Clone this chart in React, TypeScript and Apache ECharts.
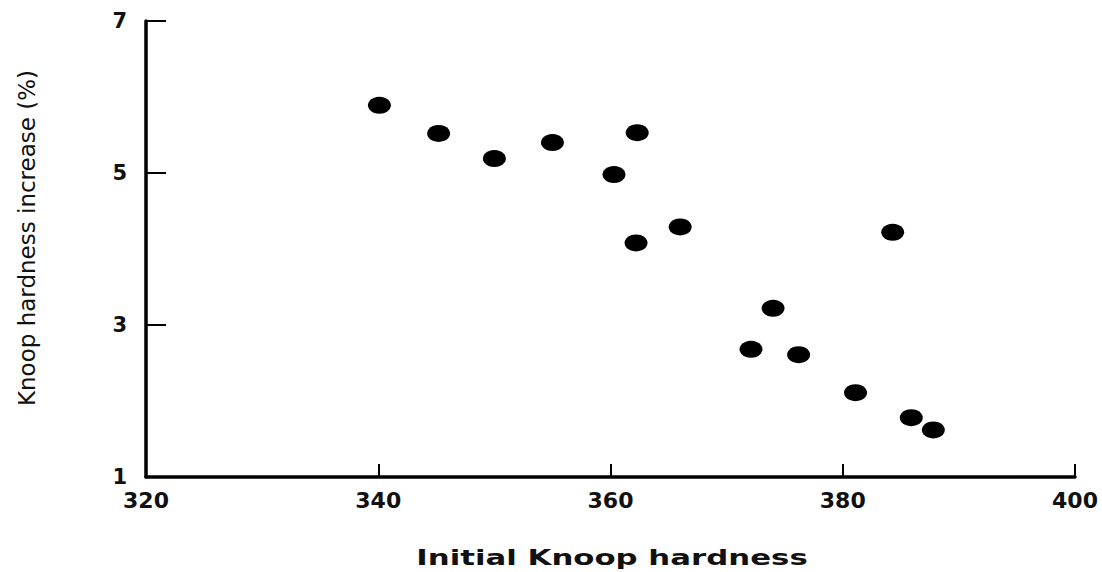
import React, { useEffect, useRef } from "react";
import * as echarts from "echarts";

const initialHardness = [340.1, 345.2, 350.0, 355.0, 362.3, 360.3, 362.2, 366.0, 384.3, 374.0, 372.1, 376.2, 381.1, 385.9, 387.8];
const hardnessIncrease = [5.89, 5.52, 5.19, 5.4, 5.53, 4.98, 4.08, 4.29, 4.22, 3.22, 2.68, 2.61, 2.11, 1.78, 1.62];
const xTitle = "Initial Knoop hardness";
const yTitle = "Knoop hardness increase (%)";

export default function App() {
  const ref = useRef<HTMLDivElement>(null);
  useEffect(() => {
    if (!ref.current) return;
    const chart = echarts.init(ref.current, null, { renderer: "svg" });
    const points = initialHardness.map((x, i) => [x, hardnessIncrease[i]]);
    chart.setOption({
      animation: false,
      backgroundColor: "#ffffff",
      grid: { left: 146, right: 27, top: 21, bottom: 95, containLabel: false },
      xAxis: {
        type: "value",
        min: 320,
        max: 400,
        interval: 20,
        splitLine: { show: false },
        axisLine: { show: true, onZero: false, lineStyle: { color: "#000", width: 3.5 } },
        axisTick: { show: true, inside: true, length: 13, lineStyle: { color: "#000", width: 2 } },
        axisLabel: {
          margin: 12,
          color: "#111",
          fontFamily: "DejaVu Sans",
          fontWeight: "bold",
          fontSize: 22,
        },
      },
      yAxis: {
        type: "value",
        min: 1,
        max: 7,
        interval: 2,
        splitLine: { show: false },
        axisLine: { show: true, onZero: false, lineStyle: { color: "#000", width: 3.5 } },
        axisTick: { show: true, inside: true, length: 20, lineStyle: { color: "#000", width: 2 } },
        axisLabel: {
          margin: 19,
          color: "#111",
          fontFamily: "DejaVu Sans",
          fontWeight: "bold",
          fontSize: 21,
        },
      },
      graphic: [
        {
          type: "text",
          x: 612,
          y: 557,
          scaleX: 1.4,
          style: {
            text: xTitle,
            fontFamily: "DejaVu Sans",
            fontWeight: "bold",
            fontSize: 22,
            fill: "#111",
            textAlign: "center",
            textVerticalAlign: "middle",
          },
        },
        {
          type: "text",
          x: 27,
          y: 238,
          rotation: Math.PI / 2,
          style: {
            text: yTitle,
            fontFamily: "DejaVu Sans",
            fontWeight: "normal",
            fontSize: 23,
            fill: "#111",
            textAlign: "center",
            textVerticalAlign: "middle",
          },
        },
      ],
      series: [
        {
          type: "scatter",
          data: points,
          symbol: "circle",
          symbolSize: [23, 17],
          itemStyle: { color: "#000", opacity: 1 },
        },
      ],
    });
    return () => chart.dispose();
  }, []);
  return (
    <div
      ref={ref}
      style={{ position: "fixed", left: 0, top: 0, width: 1102, height: 572, background: "#fff" }}
    />
  );
}
